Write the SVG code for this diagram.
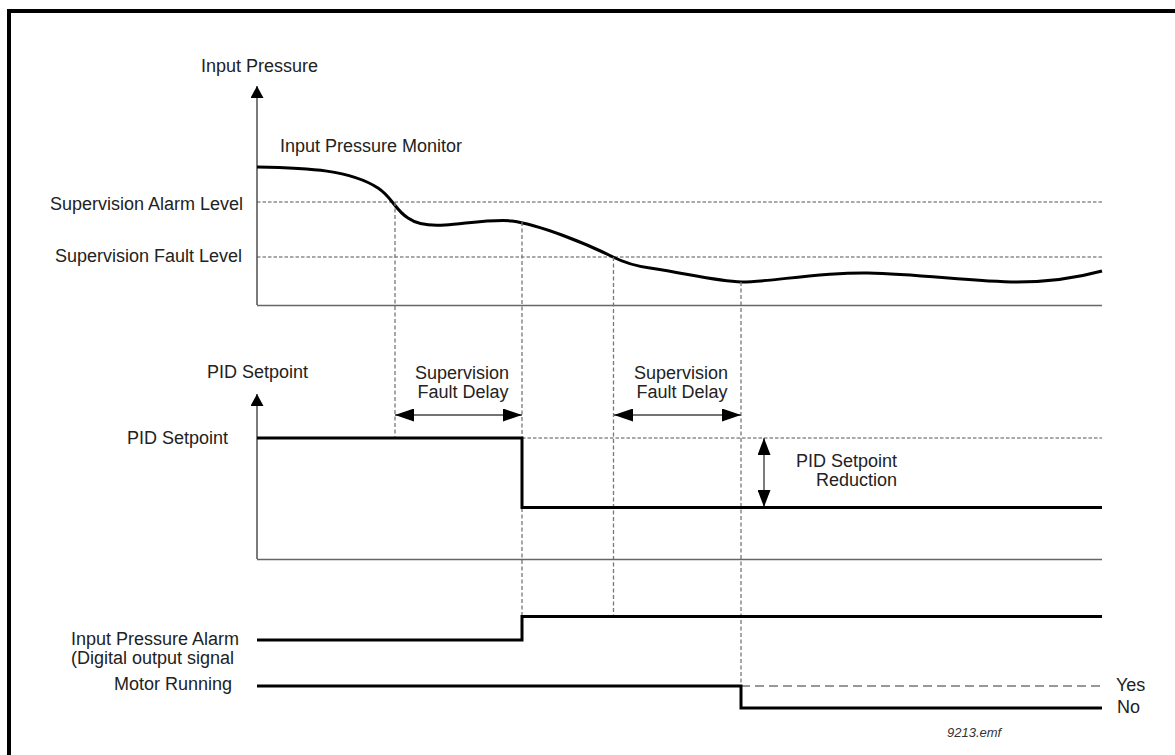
<svg xmlns="http://www.w3.org/2000/svg" width="1175" height="755" viewBox="0 0 1175 755">
<style>
text{font-family:"Liberation Sans",Arial,sans-serif;font-size:18px;fill:#222}
.axis{stroke:#333;stroke-width:1.3;fill:none}
.base{stroke:#666;stroke-width:1.6;fill:none}
.lvl{stroke:#555;stroke-width:1.2;stroke-dasharray:3.5 2;fill:none}
.vd{stroke:#777;stroke-width:1.3;stroke-dasharray:4 2.5;fill:none}
.sig{stroke:#000;stroke-width:3;fill:none}
.dim{stroke:#444;stroke-width:1.4;fill:none}
.yes{stroke:#777;stroke-width:1.6;stroke-dasharray:9 5;fill:none}
.end{text-anchor:end}
.mid{text-anchor:middle}
</style>
<defs>
<marker id="ax" markerUnits="userSpaceOnUse" markerWidth="12" markerHeight="13" refX="12" refY="6.5" orient="auto" viewBox="0 0 12 13"><path d="M0,0 L12,6.5 L0,13 z" fill="#000"/></marker>
<marker id="ah" markerUnits="userSpaceOnUse" markerWidth="19" markerHeight="13" refX="19" refY="6.5" orient="auto-start-reverse" viewBox="0 0 19 13"><path d="M0,0 L19,6.5 L0,13 z" fill="#000"/></marker>
<marker id="ah2" markerUnits="userSpaceOnUse" markerWidth="17" markerHeight="13" refX="17" refY="6.5" orient="auto-start-reverse" viewBox="0 0 17 13"><path d="M0,0 L17,6.5 L0,13 z" fill="#000"/></marker>
</defs>
<rect width="1175" height="755" fill="#fff"/>
<g id="frame"><path d="M9,755 V11 H1175" fill="none" stroke="#000" stroke-width="4"/></g>

<g id="pressure-chart">
<path class="axis" d="M257,305 V86" marker-end="url(#ax)"/>
<path class="base" d="M257,305.5 H1102"/>
<path class="lvl" d="M257,202 H1102"/>
<path class="lvl" d="M257,257 H1102"/>
<path class="sig" d="M257,167 C310,168 350,170 378,188 C392,197 395,210 408,218 C418,225 432,226 445,225 C470,223 495,219 512,221 C540,225 585,243 613,257 C625,263 635,266 650,268 C690,274 715,281 742,282 C770,282 820,272 868,273 C920,274 975,282 1017,282 C1050,282 1080,277 1102,271"/>
<text x="201" y="72">Input Pressure</text>
<text x="280" y="152">Input Pressure Monitor</text>
<text class="end" x="243" y="209.5">Supervision Alarm Level</text>
<text class="end" x="242" y="262">Supervision Fault Level</text>
</g>

<g id="connectors">
<path class="vd" d="M395,202 V438"/>
<path class="vd" d="M522,222 V616"/>
<path class="vd" d="M613.5,257 V616"/>
<path class="vd" d="M741,282 V686"/>
<path class="dim" d="M395,415 H522" marker-start="url(#ah)" marker-end="url(#ah)"/>
<path class="dim" d="M614,415 H741" marker-start="url(#ah)" marker-end="url(#ah)"/>
<path class="dim" d="M764,438 V507" marker-start="url(#ah2)" marker-end="url(#ah2)"/>
</g>

<g id="setpoint-chart">
<path class="axis" d="M257,559 V394" marker-end="url(#ax)"/>
<path class="base" d="M257,559.5 H1102"/>
<path class="lvl" d="M522,438 H1102"/>
<path class="sig" d="M257,438 H522 V507.5 H1102"/>
<text x="207" y="378">PID Setpoint</text>
<text class="end" x="228" y="444">PID Setpoint</text>
<text class="mid" x="462" y="379">Supervision</text>
<text class="mid" x="463" y="398">Fault Delay</text>
<text class="mid" x="681" y="379">Supervision</text>
<text class="mid" x="682" y="398">Fault Delay</text>
<text class="end" x="897" y="467">PID Setpoint</text>
<text class="end" x="897" y="486">Reduction</text>
</g>

<g id="alarm-signal">
<path class="sig" d="M257,640 H522 V616.5 H1102"/>
<text x="71" y="645">Input Pressure Alarm</text>
<text x="71" y="664">(Digital output signal</text>
</g>

<g id="motor-signal">
<path class="yes" d="M741,686 H1102"/>
<path class="sig" d="M257,686 H741 V708 H1102"/>
<text class="end" x="232" y="690">Motor Running</text>
<text x="1116" y="690.5">Yes</text>
<text x="1117" y="713">No</text>
</g>

<g id="caption"><text x="947" y="737" style="font-size:13px;font-style:italic;fill:#333">9213.emf</text></g>
</svg>
